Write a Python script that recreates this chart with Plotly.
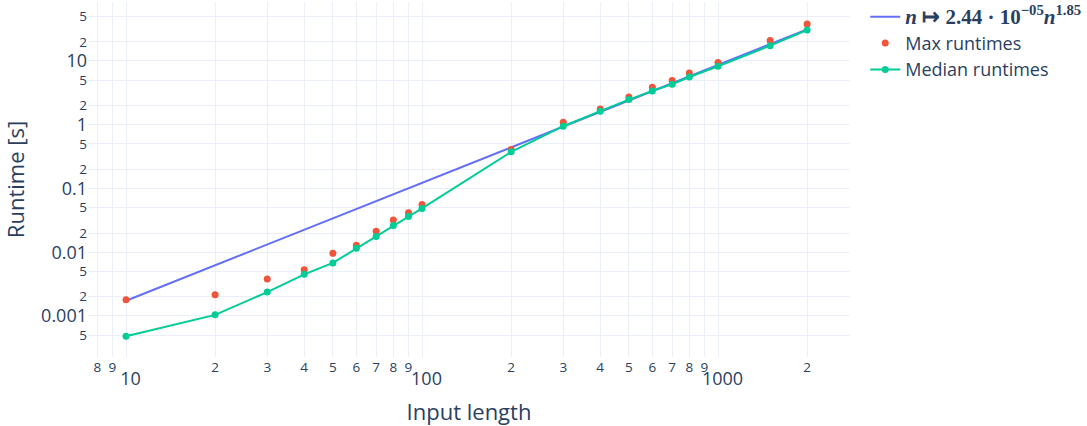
import plotly.graph_objects as go

# Input lengths
input_length = [10, 20, 30, 40, 50, 60, 70, 80, 90, 100,
                200, 300, 400, 500, 600, 700, 800, 1000, 1500, 2000]

# Max runtimes [s]
max_runtimes = [0.0018, 0.00215, 0.0038, 0.0053, 0.0096, 0.0129, 0.0214, 0.032, 0.0415, 0.056,
                0.41, 1.09, 1.77, 2.73, 3.87, 4.93, 6.49, 9.43, 20.9, 38.0]

# Median runtimes [s]
median_runtimes = [0.00048, 0.00104, 0.00237, 0.00449, 0.0068, 0.0115, 0.0177, 0.0263, 0.0364, 0.0486,
                   0.375, 0.947, 1.63, 2.48, 3.39, 4.31, 5.61, 8.26, 17.4, 30.6]

# Fitted power law endpoints
fit_x = [10, 2000]
fit_y = [0.00173, 31.2]

fit_label = ('<span style="font-family:\'Liberation Serif\', serif; font-weight:bold; font-size:21px">'
             '<i>n</i> ↦ 2.44 · 10<sup>−05</sup><i>n</i><sup>1.85</sup></span>')

fig = go.Figure()
fig.add_trace(go.Scatter(x=fit_x, y=fit_y, mode="lines", name=fit_label,
                         line=dict(color="#636efa", width=2)))
fig.add_trace(go.Scatter(x=input_length, y=max_runtimes, mode="markers", name="Max runtimes",
                         marker=dict(color="#EF553B", size=7)))
fig.add_trace(go.Scatter(x=input_length, y=median_runtimes, mode="lines+markers",
                         name="Median runtimes",
                         line=dict(color="#00cc96", width=2),
                         marker=dict(color="#00cc96", size=7)))

fig.update_layout(
    template="plotly_white",
    width=1087, height=426,
    margin=dict(l=88, r=237, t=2, b=69, autoexpand=False),
    font=dict(family="Open Sans, verdana, arial, sans-serif", size=18, color="#2a3f5f"),
    legend=dict(x=1.02, y=1.01, yanchor="top", font=dict(size=18)),
)
fig.update_xaxes(type="log", title_text="Input length", automargin=False,
                 range=[0.8716, 3.4459])
fig.update_yaxes(type="log", title_text="Runtime [s]", automargin=False,
                 range=[-3.644, 1.925])

fig.write_html("out.html", config={"displayModeBar": False},
               post_script="document.body.style.margin='0';document.body.style.overflow='hidden';")
